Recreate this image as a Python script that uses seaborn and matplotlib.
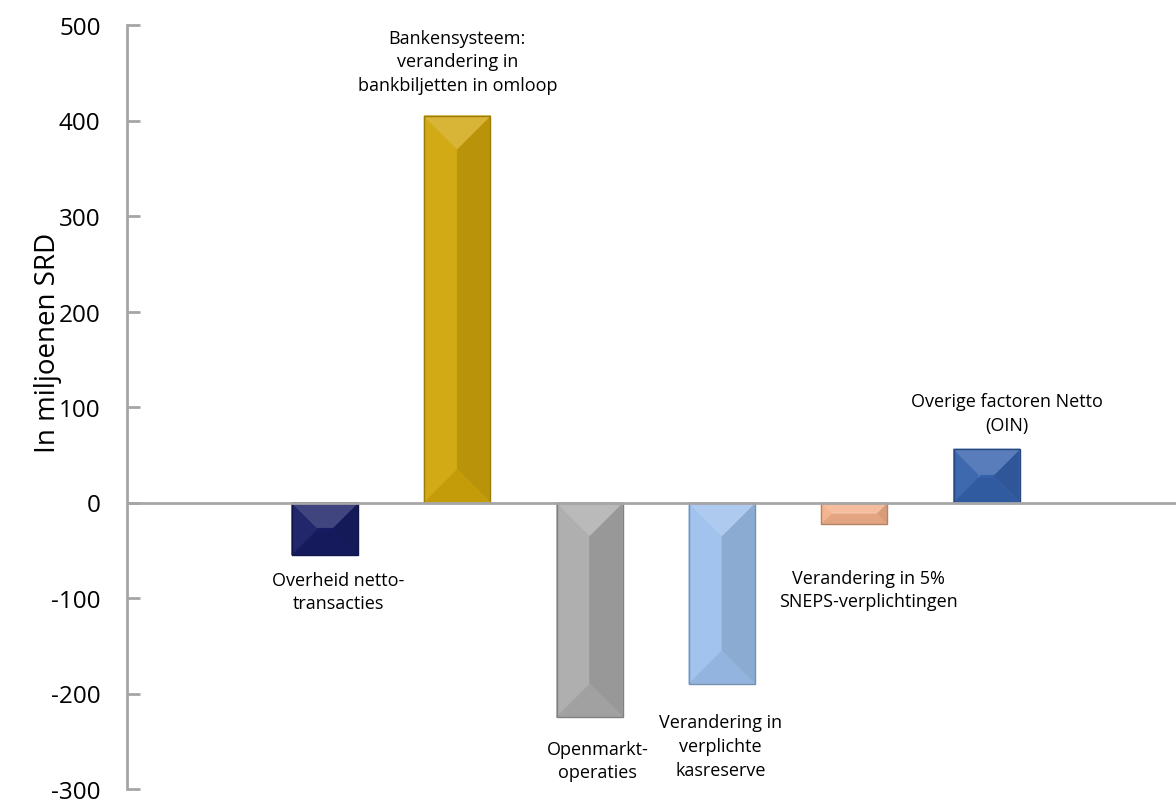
import numpy as np
import pandas as pd
import matplotlib
matplotlib.use("Agg")
import matplotlib.pyplot as plt
from matplotlib.patches import Polygon
from matplotlib.colors import to_rgb
import seaborn as sns

# Factors affecting liquidity (in millions SRD)
categories = [
    "Overheid netto-transacties",
    "Bankensysteem: verandering in bankbiljetten in omloop",
    "Openmarkt-operaties",
    "Verandering in verplichte kasreserve",
    "Verandering in 5% SNEPS-verplichtingen",
    "Overige factoren Netto (OIN)",
]
values = [-55, 405, -225, -190, -23, 56]
bar_colors = ["#161c63", "#d0a50a", "#ababab", "#9cc0ec", "#f2b089", "#3461ab"]

bar_labels = [
    "Overheid netto-\ntransacties",
    "Bankensysteem:\nverandering in\nbankbiljetten in omloop",
    "Openmarkt-\noperaties",
    "Verandering in\nverplichte\nkasreserve",
    "Verandering in 5%\nSNEPS-verplichtingen",
    "Overige factoren Netto\n(OIN)",
]
# label anchor positions (category offset, value)
label_x = [0.10, 1.00, 2.06, 2.99, 4.11, 5.15]
label_y = [-93, 462, -270, -255, -91, 94]

yticks = [-300, -200, -100, 0, 100, 200, 300, 400, 500]
ytick_labels = ["-300", "-200", "-100", "0", "100", "200", "300", "400", "500"]

sns.set_theme(style="white")
plt.rcParams["font.family"] = ["Open Sans", "DejaVu Sans"]

W, H, DPI = 11.76, 8.03, 100
fig = plt.figure(figsize=(W, H), dpi=DPI)
ax_left, ax_bottom = 127 / 1176, 13 / 803
ax_w, ax_h = 1 - ax_left, 764 / 803
ax = fig.add_axes([ax_left, ax_bottom, ax_w, ax_h])

df = pd.DataFrame({"cat": categories, "val": values})
sns.barplot(data=df, x="cat", y="val", hue="cat", palette=bar_colors,
            order=categories, hue_order=categories, width=0.5,
            legend=False, ax=ax, saturation=1, linewidth=0)

xlim = (-1.495, 6.43)
ylim = (-300, 500)
ax.set_xlim(*xlim)
ax.set_ylim(*ylim)

# pixel <-> data scale factors for the bevel
px_per_x = ax_w * W * DPI / (xlim[1] - xlim[0])
px_per_y = ax_h * H * DPI / (ylim[1] - ylim[0])


def mix(c, other, t):
    c = np.array(to_rgb(c))
    o = np.array(to_rgb(other))
    return tuple(c * (1 - t) + o * t)


for patch, base in zip(ax.patches, bar_colors):
    x0 = patch.get_x()
    w = patch.get_width()
    y0 = patch.get_y()
    h = patch.get_height()
    lo, hi = min(y0, y0 + h), max(y0, y0 + h)
    x1 = x0 + w
    wpx = w * px_per_x
    hpx = (hi - lo) * px_per_y
    dpx = min(wpx / 2, 0.47 * hpx, 34)
    dx = dpx / px_per_x
    dy = dpx / px_per_y
    patch.set_alpha(0)

    faces = [
        # left, right, bottom, top
        ([(x0, hi), (x0 + dx, hi - dy), (x0 + dx, lo + dy), (x0, lo)], mix(base, "white", 0.05)),
        ([(x1, hi), (x1 - dx, hi - dy), (x1 - dx, lo + dy), (x1, lo)], mix(base, "black", 0.11)),
        ([(x0, lo), (x1, lo), (x1 - dx, lo + dy), (x0 + dx, lo + dy)], mix(base, "black", 0.06)),
        ([(x0, hi), (x1, hi), (x1 - dx, hi - dy), (x0 + dx, hi - dy)], mix(base, "white", 0.18)),
    ]
    # inner face between the bevels
    if x1 - dx > x0 + dx:
        faces.insert(0, ([(x0 + dx, lo + dy), (x1 - dx, lo + dy),
                          (x1 - dx, hi - dy), (x0 + dx, hi - dy)], base))
    for pts, col in faces:
        ax.add_patch(Polygon(pts, closed=True, facecolor=col, edgecolor=col,
                             linewidth=0.5, zorder=2))
    ax.add_patch(Polygon([(x0, lo), (x1, lo), (x1, hi), (x0, hi)], closed=True,
                         facecolor="none", edgecolor=mix(base, "black", 0.25),
                         linewidth=1.0, zorder=3))

# zero line
ax.axhline(0, color="#a6a6a6", linewidth=2, zorder=4)

for txt, lx, ly in zip(bar_labels, label_x, label_y):
    ax.text(lx, ly, txt, ha="center", va="center", fontsize=13,
            color="black", linespacing=1.4, zorder=5)

ax.set_yticks(yticks)
ax.set_yticklabels(ytick_labels)
ax.set_xticks([])
ax.set_xlabel("")
ax.set_ylabel("In miljoenen SRD", fontsize=20, color="black")
ax.yaxis.set_label_coords(-0.062, 0.585)
ax.tick_params(axis="y", direction="in", length=9, width=2, color="#a6a6a6",
               labelsize=17.5, labelcolor="black", pad=19, left=True)

for side in ["top", "right", "bottom"]:
    ax.spines[side].set_visible(False)
ax.spines["left"].set_color("#a6a6a6")
ax.spines["left"].set_linewidth(2)
ax.set_facecolor("white")
fig.patch.set_facecolor("white")

fig.savefig("out.png", dpi=DPI)
